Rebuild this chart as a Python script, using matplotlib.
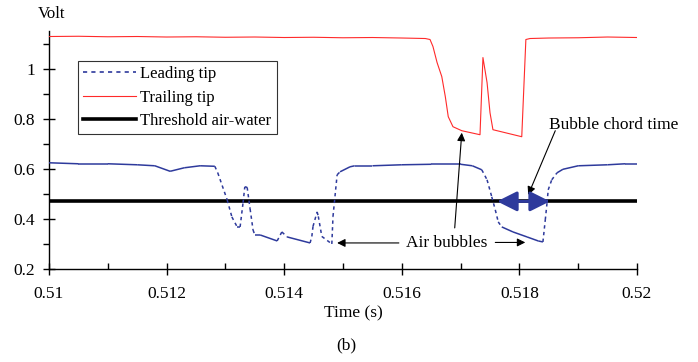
import matplotlib
matplotlib.use("Agg")
import matplotlib.pyplot as plt
import numpy as np
from matplotlib.collections import LineCollection
from matplotlib.lines import Line2D

plt.rcParams['font.family'] = ['Liberation Serif', 'DejaVu Serif']

# Leading tip signal
lead_t = [0.5100, 0.5105, 0.5110, 0.5115, 0.5118, 0.51206, 0.5123, 0.51257,
          0.51282, 0.51287, 0.51303, 0.51311, 0.51320, 0.51325, 0.51330, 0.51333,
          0.51337, 0.51342, 0.51347, 0.51350, 0.51359, 0.51388, 0.51396, 0.51405,
          0.51444, 0.51447, 0.51449, 0.51456, 0.51458, 0.51464, 0.51481, 0.51483,
          0.51490, 0.51495, 0.51512, 0.5152, 0.5155, 0.5160, 0.5165, 0.5170,
          0.5172, 0.51736, 0.51745, 0.51753, 0.51759, 0.51764, 0.51770, 0.51789,
          0.51813, 0.51832, 0.51840, 0.51844, 0.51847, 0.51849, 0.51855, 0.51864,
          0.51874, 0.5190, 0.5195, 0.5198, 0.5200]
lead_v = [0.624, 0.620, 0.620, 0.616, 0.612, 0.590, 0.604, 0.612,
          0.610, 0.584, 0.476, 0.408, 0.368, 0.368, 0.464, 0.528,
          0.526, 0.440, 0.356, 0.336, 0.336, 0.312, 0.348, 0.328,
          0.304, 0.330, 0.370, 0.428, 0.410, 0.330, 0.300, 0.410,
          0.576, 0.588, 0.608, 0.612, 0.612, 0.616, 0.618, 0.618,
          0.612, 0.596, 0.556, 0.488, 0.436, 0.388, 0.368, 0.348,
          0.328, 0.312, 0.308, 0.396, 0.464, 0.516, 0.556, 0.584,
          0.598, 0.612, 0.616, 0.620, 0.620]

# Trailing tip signal
trail_t = [0.5100, 0.5105, 0.5110, 0.5115, 0.5120, 0.5125, 0.5130, 0.5135,
           0.5140, 0.5145, 0.5150, 0.5155, 0.5160, 0.5164, 0.51648, 0.51653,
           0.51660, 0.51668, 0.51674, 0.51679, 0.51687, 0.51702, 0.51733, 0.51738,
           0.51745, 0.51750, 0.51755, 0.51804, 0.51811, 0.51818, 0.5185, 0.5190,
           0.5195, 0.5200]
trail_v = [1.128, 1.129, 1.127, 1.128, 1.126, 1.127, 1.125, 1.126,
           1.124, 1.125, 1.123, 1.124, 1.122, 1.120, 1.116, 1.088,
           1.024, 0.968, 0.888, 0.808, 0.768, 0.752, 0.736, 1.044,
           0.944, 0.824, 0.756, 0.728, 1.116, 1.120, 1.122, 1.123,
           1.126, 1.124]

threshold = 0.47
chord_start, chord_end = 0.51762, 0.51852

blue = '#2e3a9c'
fs = 12

fig = plt.figure(figsize=(6.98, 3.62), dpi=100)
ax = fig.add_axes([49/698, 1-269/362, (637-49)/698, (269-31)/362])

ax.plot([0.51, 0.52], [threshold, threshold], color='black', lw=2.6, zorder=2)
ax.plot(trail_t, trail_v, color='#ff2a2a', lw=0.8, zorder=3)

# leading tip: steep segments dashed, flat ones look solid (as in the original)
segs = np.array([[[lead_t[i], lead_v[i]], [lead_t[i+1], lead_v[i+1]]] for i in range(len(lead_t)-1)])
slope = np.abs(np.diff(lead_v)) / np.diff(lead_t)
steep = slope > 150
ax.add_collection(LineCollection(segs[steep], colors=blue, linewidths=1.1, linestyles=(0, (2.2, 2.2)), zorder=3))
ax.add_collection(LineCollection(segs[~steep], colors=blue, linewidths=1.1, zorder=3))

ax.set_xlim(0.51, 0.52)
ax.set_ylim(0.2, 1.15)
ax.set_xticks(np.arange(0.51, 0.5201, 0.002))
ax.set_xticklabels(['0.51', '0.512', '0.514', '0.516', '0.518', '0.52'])
ax.set_xticks(np.arange(0.511, 0.520, 0.002), minor=True)
ax.set_yticks([0.2, 0.4, 0.6, 0.8, 1.0])
ax.set_yticklabels(['0.2', '0.4', '0.6', '0.8', '1'])
ax.set_yticks([0.3, 0.5, 0.7, 0.9, 1.1], minor=True)
for s in ['top', 'right']:
    ax.spines[s].set_visible(False)
ax.spines['left'].set_linewidth(1.0)
ax.spines['bottom'].set_linewidth(1.0)
ax.tick_params(axis='both', which='major', direction='inout', length=8, width=1.0, labelsize=12.5)
ax.tick_params(axis='x', which='major', pad=8)
ax.tick_params(axis='y', which='major', pad=6)
ax.tick_params(axis='x', which='minor', direction='in', length=4, width=1.0)
ax.tick_params(axis='y', which='minor', direction='out', length=4, width=1.0)

# annotations
ax.annotate('', xy=(chord_start, threshold), xytext=(chord_end, threshold),
            arrowprops=dict(arrowstyle='<|-|>', color=blue, lw=2.2, mutation_scale=30,
                            shrinkA=0, shrinkB=0), zorder=5)
arrow_kw = dict(arrowstyle='-|>', color='black', lw=0.8, mutation_scale=12, shrinkA=0, shrinkB=0)
ax.text(0.51677, 0.304, 'Air bubbles', fontsize=fs + 0.5, ha='center', va='center')
ax.annotate('', xy=(0.51490, 0.304), xytext=(0.51595, 0.304), arrowprops=arrow_kw)
ax.annotate('', xy=(0.51810, 0.306), xytext=(0.51759, 0.306), arrowprops=arrow_kw)
ax.annotate('', xy=(0.51702, 0.744), xytext=(0.51690, 0.364), arrowprops=arrow_kw)
ax.text(0.51961, 0.776, 'Bubble chord time', fontsize=fs + 0.5, ha='center', va='center', clip_on=False)
ax.annotate('', xy=(0.51815, 0.496), xytext=(0.51861, 0.752), arrowprops=arrow_kw)

handles = [Line2D([], [], color=blue, lw=1.2, ls=(0, (2.5, 2.5))),
           Line2D([], [], color='#ff2a2a', lw=0.8),
           Line2D([], [], color='black', lw=2.6)]
leg = fig.legend(handles, ['Leading tip', 'Trailing tip', 'Threshold air-water'],
                 loc='upper left', bbox_to_anchor=(78/698, 1-61/362), fontsize=fs,
                 frameon=True, fancybox=False, handlelength=3.2, handletextpad=0.25,
                 labelspacing=0.45, borderpad=0.3, borderaxespad=0)
leg.get_frame().set_edgecolor('black')
leg.get_frame().set_linewidth(0.8)

fig.text(52/698, 1-14/362, 'Volt', fontsize=fs, ha='center', va='center')
fig.text(353/698, 1-313/362, 'Time (s)', fontsize=fs + 0.5, ha='center', va='center')
fig.text(346/698, 1-345/362, '(b)', fontsize=fs + 0.5, ha='center', va='center')

fig.savefig('out.png', dpi=100)
